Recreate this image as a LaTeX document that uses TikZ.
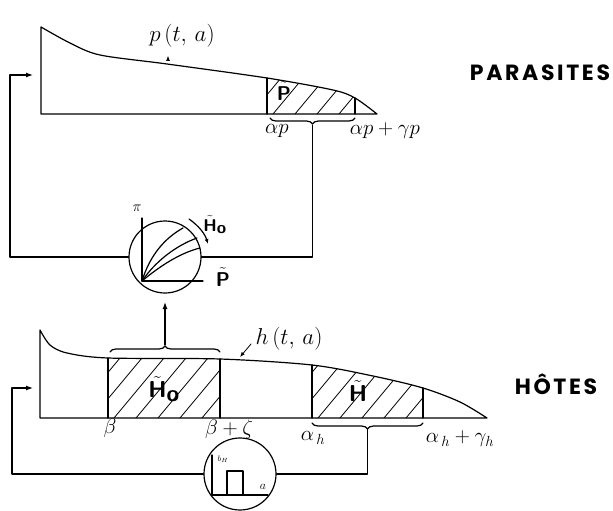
\RequirePackage{fix-cm}
\documentclass[tikz,border=0pt]{standalone}
\usepackage{fontspec}
\newfontfamily\capsfont[LetterSpace=12]{Poppins}
\usetikzlibrary{arrows.meta,decorations.pathreplacing}
\newcommand{\tsf}[1]{\ensuremath{\tilde{\textsf{\bfseries #1}}}}
\newcommand{\bsf}[1]{\textsf{\bfseries #1}}
\begin{document}
\begin{tikzpicture}[x=1pt,y=-1pt, line width=1.2pt, line cap=round, line join=round,
  tip/.style={-{Latex[length=7pt,width=5pt]}},
  smalltip/.style={-{Latex[length=5pt,width=4pt]}},
  hatch/.style={line width=0.8pt},
  lab/.style={inner sep=0pt, font=\fontsize{21}{21}\selectfont},
  fnlab/.style={inner sep=0pt, font=\fontsize{23}{23}\selectfont},
  midlab/.style={inner sep=0pt, font=\fontsize{20}{20}\selectfont},
  smlab/.style={inner sep=0pt, font=\fontsize{17}{17}\selectfont},
  biglab/.style={inner sep=0pt, font=\fontsize{23}{23}\selectfont},
  pilab/.style={inner sep=0pt, font=\fontsize{15}{15}\selectfont},
  tinylab/.style={inner sep=0pt, font=\fontsize{8}{8}\selectfont},
  alab/.style={inner sep=0pt, font=\fontsize{12}{12}\selectfont},
  title/.style={inner sep=0pt, font=\capsfont\bfseries\fontsize{22}{22}\selectfont},
  circ/.style={circle, draw, minimum size=72pt, inner sep=0pt},
  brc/.style={decorate, decoration={brace, amplitude=6pt}},
  brcm/.style={decorate, decoration={brace, amplitude=6pt, mirror}}]
\useasboundingbox (0,0) rectangle (613,511);

% ---------- PARASITES population ----------
\begin{scope}
  \clip plot[smooth] coordinates {(41,27) (70,43) (100,55) (167,64) (267,78) (333,90) (355,98) (377,114)} -- (377,114) -- (41,114) -- cycle;
  \clip (267,0) rectangle (355,114);
  \foreach \k in {0,...,8} \draw[hatch] ({207+\k*22},114) -- ++(80,-96);
\end{scope}
\draw plot[smooth] coordinates {(41,27) (70,43) (100,55) (167,64) (267,78) (333,90) (355,98) (377,114)} -- (377,114) -- (41,114) -- cycle;
\draw (267,78) -- (267,114);
\draw (355,98) -- (355,114);
\draw[brcm] (270,118) -- (355,118);
\coordinate (ptip) at (312.5,125);

\node[fnlab] (plab) at (182,36) {$p\,(t,\,a)$};
\coordinate (tka) at (168,60);
\coordinate (tkb) at (168,56);
\draw[smalltip, line width=0.6pt] (tka) -- (tkb);
\node[midlab] (ptl) at (284,91) {\tsf{P}};
\node[lab] (alp) at (277,131) {$\alpha p$};
\node[lab] (algp) at (385,131) {$\alpha p+\gamma p$};
\node[title] (par) at (540,73) {PARASITES};

% ---------- middle circle (parasites) ----------
\node[circ] (pc) at (165,257) {};
\draw (142,218) -- (142,281) -- (203,281);
\draw (142,281) .. controls (150,255) and (165,238) .. (183,228);
\draw (142,281) .. controls (155,262) and (175,246) .. (197,238);
\draw (142,281) .. controls (160,266) and (180,253) .. (200,248);
\node[pilab] (pil) at (137,208) {$\pi$};
\coordinate (caa) at (189,219);
\coordinate (cab) at (208,244);
\draw[smalltip] (caa) .. controls (199,226) and (205,234) .. (cab);
\node[smlab] (hol) at (215,225) {$\tsf{H}_{\bsf{o}}$};
\node[midlab] (pl) at (223,277) {\tsf{P}};

\coordinate (pla) at (10,75);
\coordinate (pin) at (33,75);
\draw[tip] (pc.west) -| (pla) -- (pin);
\draw (pc.east) -| (ptip);

% ---------- HOTES population ----------
\begin{scope}
  \clip plot[smooth] coordinates {(40,330) (50,345) (67,353) (108,358) (220,359) (312,365) (373,376) (423,388) (460,402) (487,418)} -- (487,418) -- (40,418) -- cycle;
  \clip (108,300) rectangle (220,418);
  \foreach \k in {0,...,10} \draw[hatch] ({48+\k*22},418) -- ++(100,-120);
\end{scope}
\begin{scope}
  \clip plot[smooth] coordinates {(40,330) (50,345) (67,353) (108,358) (220,359) (312,365) (373,376) (423,388) (460,402) (487,418)} -- (487,418) -- (40,418) -- cycle;
  \clip (312,300) rectangle (423,418);
  \foreach \k in {0,...,10} \draw[hatch] ({252+\k*22},418) -- ++(100,-120);
\end{scope}
\draw plot[smooth] coordinates {(40,330) (50,345) (67,353) (108,358) (220,359) (312,365) (373,376) (423,388) (460,402) (487,418)} -- (487,418) -- (40,418) -- cycle;
\draw (108,358) -- (108,418);
\draw (220,359) -- (220,418);
\draw (312,365) -- (312,418);
\draw (423,388) -- (423,418);
\draw[brc] (110,352) -- (220,352);
\draw[brcm] (312,423) -- (423,423);
\coordinate (htip) at (165,345);
\coordinate (pup) at (165,302);
\coordinate (htipb) at (367.5,429);
\draw[tip] (htip) -- (pup);

\node[fnlab] (hlab) at (289,339) {$h\,(t,\,a)$};
\coordinate (hs) at (251,344);
\coordinate (he) at (240,357);
\draw[smalltip, line width=0.8pt] (hs) -- (he);
\node[biglab] (hot) at (164,389) {$\tsf{H}_{\bsf{o}}$};
\node[biglab] (ht) at (358,391) {\tsf{H}};
\node[lab] (bl) at (110,428) {$\beta$};
\node[lab] (bzl) at (229,429) {$\beta+\zeta$};
\node[lab] (ahl) at (313,438) {$\alpha_{\,h}$};
\node[lab] (ahgl) at (460,439) {$\alpha_{\,h}+\gamma_h$};
\node[title] (hotes) at (556,384) {HÔTES};

% ---------- bottom circle (hosts) ----------
\node[circ] (hc) at (240,474) {};
\draw (212,455) -- (212,495) -- (268,495);
\draw (227,495) -- (227,471) -- (243,471) -- (243,495);
\node[tinylab] (bhl) at (223,459) {$b_{H}$};
\node[alab] (al) at (263,487) {$a$};

\coordinate (hla) at (12,388);
\coordinate (hin) at (33,388);
\draw[tip] (hc.west) -| (hla) -- (hin);
\draw (hc.east) -| (htipb);
\end{tikzpicture}
\end{document}
